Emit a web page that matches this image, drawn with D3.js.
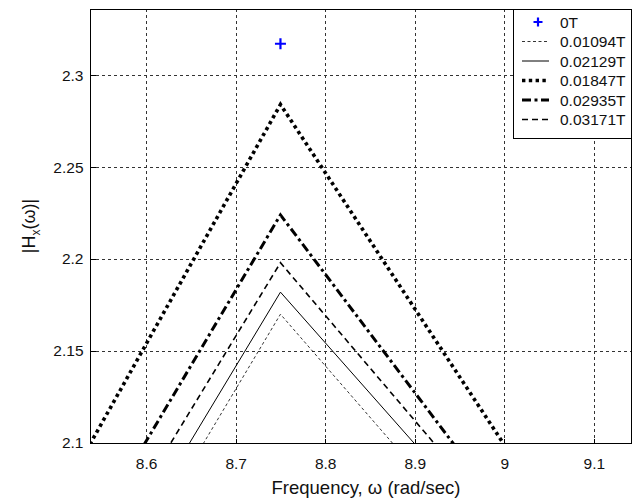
<!DOCTYPE html>
<html>
<head>
<meta charset="utf-8">
<script src="https://cdn.jsdelivr.net/npm/d3@7"></script>
<style>
  html, body { margin: 0; padding: 0; background: #fff; }
  svg { display: block; font-family: "Liberation Sans", Arial, Helvetica, sans-serif; }
</style>
</head>
<body>
<svg id="chart" width="634" height="500"></svg>
<script>
// Frequency samples (rad/sec) for each magnitude curve
const freq = [8.5, 8.75, 9.0];

// |Hx(w)| for each damping value
const val01094 = [1.966, 2.170, 2.030];
const val02129 = [1.980, 2.182, 2.0445];
const val01847 = [2.067, 2.284, 2.099];
const val02935 = [2.019, 2.224, 2.063];
const val03171 = [1.998, 2.198, 2.055];

// Undamped response: single point
const freq0T = [8.75];
const val0T = [2.317];

const seriesLabels = ["0.01094T", "0.02129T", "0.01847T", "0.02935T", "0.03171T"];
const seriesValues = [val01094, val02129, val01847, val02935, val03171];

const xTicks = [8.6, 8.7, 8.8, 8.9, 9.0, 9.1];
const xTickLabels = ["8.6", "8.7", "8.8", "8.9", "9", "9.1"];
const yTicks = [2.1, 2.15, 2.2, 2.25, 2.3];
const yTickLabels = ["2.1", "2.15", "2.2", "2.25", "2.3"];

// Line style per series
const styles = [
  { w: 0.8, dash: "3,2.5" },
  { w: 1.0, dash: null },
  { w: 3.6, dash: "3.4,3.4" },
  { w: 3.0, dash: "9,3.5,3,3.5" },
  { w: 1.6, dash: "6,4" }
];

const L = 90, R = 632, T = 9, B = 443;
const FONT = 15.5;
const svg = d3.select("#chart");

const x = d3.scaleLinear().domain([8.5373, 9.1426]).range([L, R]);
const y = d3.scaleLinear().domain([2.1, 2.3359]).range([B, T]);

// Grid lines
const grid = svg.append("g").attr("stroke", "#333").attr("stroke-width", 1)
  .attr("stroke-dasharray", "3,3").attr("shape-rendering", "crispEdges");
xTicks.forEach(t => {
  grid.append("line").attr("x1", Math.round(x(t)) + 0.5).attr("x2", Math.round(x(t)) + 0.5)
    .attr("y1", T).attr("y2", B);
});
yTicks.forEach(t => {
  grid.append("line").attr("y1", Math.round(y(t)) + 0.5).attr("y2", Math.round(y(t)) + 0.5)
    .attr("x1", L).attr("x2", R);
});

// Clip curves to plot area
svg.append("clipPath").attr("id", "plotclip")
  .append("rect").attr("x", L).attr("y", T).attr("width", R - L).attr("height", B - T);

const line = d3.line().x((d, i) => x(freq[i])).y(d => y(d));
const curves = svg.append("g").attr("clip-path", "url(#plotclip)");
seriesValues.forEach((vals, k) => {
  const s = styles[k];
  curves.append("path")
    .attr("d", line(vals))
    .attr("fill", "none")
    .attr("stroke", "#000")
    .attr("stroke-width", s.w)
    .attr("stroke-dasharray", s.dash);
});

// Undamped marker
const plus = (g, cx, cy, r) => {
  g.append("path")
    .attr("d", `M${cx - r},${cy}H${cx + r}M${cx},${cy - r}V${cy + r}`)
    .attr("stroke", "#0000ff").attr("stroke-width", 2.2).attr("fill", "none");
};
freq0T.forEach((f, i) => plus(curves, x(f), y(val0T[i]), 5.5));

// Axes box
svg.append("rect").attr("x", L + 0.5).attr("y", T + 0.5)
  .attr("width", R - L - 1).attr("height", B - T)
  .attr("fill", "none").attr("stroke", "#000").attr("stroke-width", 1)
  .attr("shape-rendering", "crispEdges");

// Axes with inward ticks
const xAxis = d3.axisBottom(x).tickValues(xTicks)
  .tickFormat((d, i) => xTickLabels[i])
  .tickSizeInner(-5).tickSizeOuter(0).tickPadding(14);
const gx = svg.append("g").attr("transform", `translate(0,${B + 0.5})`).call(xAxis);
gx.select(".domain").remove();

const yAxis = d3.axisLeft(y).tickValues(yTicks)
  .tickFormat((d, i) => yTickLabels[i])
  .tickSizeInner(-5).tickSizeOuter(0).tickPadding(7);
const gy = svg.append("g").attr("transform", `translate(${L + 0.5},0)`).call(yAxis);
gy.select(".domain").remove();

[gx, gy].forEach(g => {
  g.selectAll(".tick line").attr("stroke", "#000").attr("shape-rendering", "crispEdges");
  g.selectAll(".tick text").attr("font-size", FONT).attr("fill", "#111")
    .attr("font-family", "'Liberation Sans', Arial, sans-serif");
});

// Axis titles
svg.append("text").attr("x", 366).attr("y", 494)
  .attr("text-anchor", "middle").attr("font-size", 18.5).attr("fill", "#111")
  .text("Frequency, \u03c9 (rad/sec)");

const yl = svg.append("text")
  .attr("transform", `translate(35,${(T + B) / 2}) rotate(-90)`)
  .attr("text-anchor", "middle").attr("font-size", 18).attr("fill", "#111");
yl.append("tspan").text("|H");
yl.append("tspan").attr("font-size", 12).attr("dy", 5).text("x");
yl.append("tspan").attr("dy", -5).text("(\u03c9)|");

// Legend
const lgX = 513, lgY = T, lgW = R - lgX, lgH = 129;
const lg = svg.append("g");
lg.append("rect").attr("x", lgX + 0.5).attr("y", lgY + 0.5).attr("width", lgW - 1).attr("height", lgH)
  .attr("fill", "#fff").attr("stroke", "#000").attr("shape-rendering", "crispEdges");
const rowY = i => lgY + 13 + i * 19.5;
plus(lg, 538, rowY(0), 4.5);
lg.append("text").attr("x", 560).attr("y", rowY(0)).attr("dy", "0.36em")
  .attr("font-size", FONT).attr("fill", "#111").text("0T");
seriesLabels.forEach((lab, k) => {
  const s = styles[k];
  const yy = rowY(k + 1);
  lg.append("line").attr("x1", 522).attr("x2", 549).attr("y1", yy).attr("y2", yy)
    .attr("stroke", "#000").attr("stroke-width", s.w)
    .attr("stroke-dasharray", s.dash);
  lg.append("text").attr("x", 560).attr("y", yy).attr("dy", "0.36em")
    .attr("font-size", FONT).attr("fill", "#111").text(lab);
});
</script>
</body>
</html>
